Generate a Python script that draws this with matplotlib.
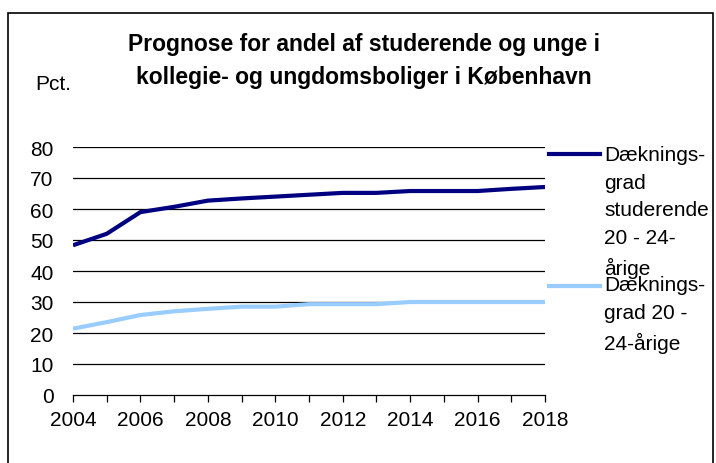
import matplotlib
matplotlib.use("Agg")
import matplotlib.pyplot as plt
from matplotlib.lines import Line2D
from matplotlib.patches import Rectangle

plt.rcParams['font.family'] = ['Liberation Sans', 'DejaVu Sans']

years = list(range(2004, 2019))
studerende = [48.3, 52.0, 59.0, 60.7, 62.7, 63.4, 64.0, 64.6, 65.2, 65.2, 65.8, 65.8, 65.8, 66.5, 67.1]
unge = [21.4, 23.5, 25.8, 27.0, 27.8, 28.5, 28.5, 29.3, 29.3, 29.3, 30.0, 30.0, 30.0, 30.0, 30.0]
label_stud = "Dæknings-\ngrad\nstuderende\n20 - 24-\nårige"
label_unge = "Dæknings-\ngrad 20 -\n24-årige"
title = "Prognose for andel af studerende og unge i\nkollegie- og ungdomsboliger i København"
ylabel = "Pct."
yticks = [0, 10, 20, 30, 40, 50, 60, 70, 80]
xticklabels = list(range(2004, 2019, 2))

dark = "#000080"
light = "#99ccff"

W, H = 716, 464
fig = plt.figure(figsize=(W / 100, H / 100), dpi=100)
fig.patch.set_facecolor("white")

# outer frame
fig.add_artist(Rectangle((8 / W, -0.01), (713 - 8) / W, (H - 14) / H + 0.01,
                         transform=fig.transFigure, fill=False, edgecolor="black", lw=1.2))

ax = fig.add_axes([73 / W, (H - 396) / H, (545 - 73) / W, (396 - 148) / H])
ax.plot(years, studerende, color=dark, lw=3, solid_capstyle="butt")
ax.plot(years, unge, color=light, lw=3, solid_capstyle="butt")

ax.set_xlim(2004, 2018)
ax.set_ylim(0, 80)
ax.set_yticks(yticks)
ax.set_yticklabels([str(v) for v in yticks], fontsize=15)
for v in yticks[1:]:
    ax.axhline(v, color="black", lw=0.9, zorder=0)
ax.set_xticks(years)
ax.set_xticklabels([str(y) if y in xticklabels else "" for y in years], fontsize=15)
ax.tick_params(axis="y", length=0, pad=14)
ax.tick_params(axis="x", direction="out", length=5, width=0.9, pad=6)
for s in ["top", "right", "left"]:
    ax.spines[s].set_visible(False)
ax.spines["bottom"].set_linewidth(0.9)

fig.text(364 / W, 1 - 61 / H, title, ha="center", va="center", fontsize=16.5,
         fontweight="bold", linespacing=1.55)
fig.text(35 / W, 1 - 85 / H, ylabel, ha="left", va="center", fontsize=15)

# legend
fig.add_artist(Line2D([549 / W, 600 / W], [1 - 155 / H, 1 - 155 / H], color=dark, lw=3,
                      transform=fig.transFigure))
fig.text(604 / W, 1 - 146 / H, label_stud, ha="left", va="top", fontsize=15, linespacing=1.58)
fig.add_artist(Line2D([549 / W, 600 / W], [1 - 287 / H, 1 - 287 / H], color=light, lw=3,
                      transform=fig.transFigure))
fig.text(604 / W, 1 - 276 / H, label_unge, ha="left", va="top", fontsize=15, linespacing=1.58)

fig.savefig("out.png", dpi=100)
